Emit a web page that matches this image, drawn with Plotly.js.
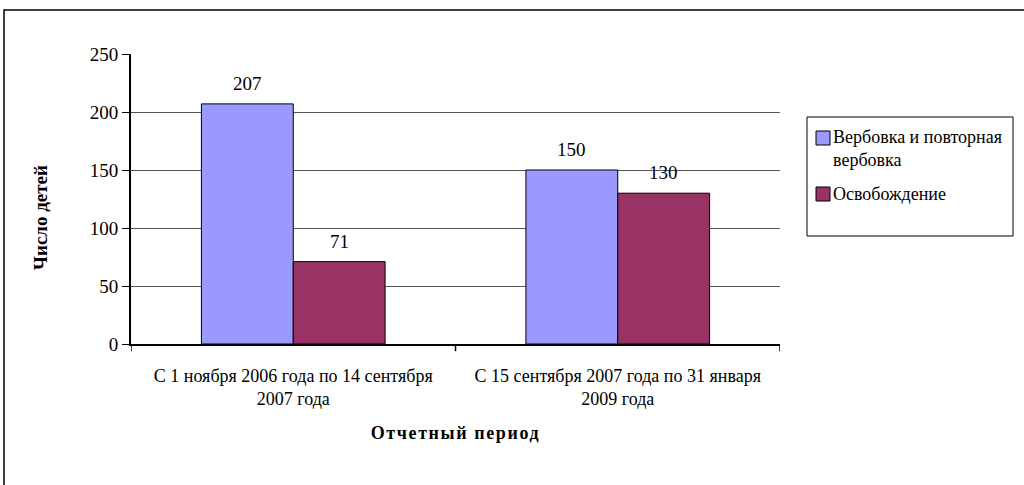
<!DOCTYPE html>
<html>
<head>
<meta charset="utf-8">
<script src="https://cdn.plot.ly/plotly-3.0.1.min.js"></script>
<style>
html,body{margin:0;padding:0;background:#fff;}
#chart{width:1024px;height:485px;}
#chart .g-xtitle text{letter-spacing:1.6px;}
</style>
</head>
<body>
<div id="chart"></div>
<script>
const categories = [
  "С 1 ноября 2006 года по 14 сентября<br>2007 года",
  "С 15 сентября 2007 года по 31 января<br>2009 года"
];
const seriesNames = ["Вербовка и повторная<br>вербовка", "Освобождение"];
const seriesColors = ["#9999ff", "#993366"];
const recruitment = [207, 150];
const release = [71, 130];
const yTicks = [0, 50, 100, 150, 200, 250];

const FONT = "Liberation Serif";
const barW = 0.283;

// pixel -> paper helpers (plot area: x 131..780, y 54..344)
const L = 131, R = 780, T = 54, B = 344;
const px = v => (v - L) / (R - L);
const py = v => (B - v) / (B - T);

const traces = [
  {
    type: "bar", name: seriesNames[0], x: [0, 1], y: recruitment,
    width: barW, offset: -barW,
    marker: {color: seriesColors[0], line: {color: "#000000", width: 1}},
    hoverinfo: "y"
  },
  {
    type: "bar", name: seriesNames[1], x: [0, 1], y: release,
    width: barW, offset: 0,
    marker: {color: seriesColors[1], line: {color: "#000000", width: 1}},
    hoverinfo: "y"
  }
];

const annotations = [];
recruitment.forEach((v, i) => annotations.push({
  x: i - barW / 2, y: v, xref: "x", yref: "y", text: String(v),
  showarrow: false, yanchor: "bottom", yshift: 8,
  font: {family: FONT, size: 19, color: "#000"}
}));
release.forEach((v, i) => annotations.push({
  x: i + barW / 2, y: v, xref: "x", yref: "y", text: String(v),
  showarrow: false, yanchor: "bottom", yshift: 8,
  font: {family: FONT, size: 19, color: "#000"}
}));

// y axis title (placed as in the reference, below centre)
annotations.push({
  xref: "paper", yref: "paper", x: px(40), y: py(218), textangle: -90,
  text: "Число детей", showarrow: false, xanchor: "center", yanchor: "middle",
  font: {family: FONT, size: 19, color: "#000", weight: "bold"}
});

// legend (drawn as a boxed key like the reference)
const legendRows = [{sq: [131, 145], text: 148.5}, {sq: [187, 201], text: 194}];
const shapes = [
  {type: "line", xref: "x", yref: "paper", x0: -0.5, x1: -0.5, y0: 0, y1: -0.025, line: {color: "#000", width: 1.5}},
  {type: "line", xref: "x", yref: "paper", x0: 0.5, x1: 0.5, y0: 0, y1: -0.025, line: {color: "#000", width: 1.5}},
  {type: "line", xref: "x", yref: "paper", x0: 1.5, x1: 1.5, y0: 0, y1: -0.025, line: {color: "#000", width: 1.5}},
  {type: "rect", xref: "paper", yref: "paper", x0: px(4), x1: 1.6, y0: -1, y1: py(10),
   line: {color: "#000", width: 1.5}, fillcolor: "rgba(0,0,0,0)", layer: "below"},
  {type: "rect", xref: "paper", yref: "paper", x0: px(807), x1: px(1013), y0: py(236), y1: py(117),
   line: {color: "#000", width: 1}, fillcolor: "#ffffff", layer: "above"}
];
seriesNames.forEach((name, i) => {
  const r = legendRows[i];
  shapes.push({type: "rect", xref: "paper", yref: "paper", x0: px(816), x1: px(830),
    y0: py(r.sq[1]), y1: py(r.sq[0]), line: {color: "#000", width: 1}, fillcolor: seriesColors[i], layer: "above"});
  annotations.push({xref: "paper", yref: "paper", x: px(831), y: py(r.text), xanchor: "left", yanchor: "middle",
    align: "left", text: name, showarrow: false, font: {family: FONT, size: 18, color: "#000"}});
});

const layout = {
  width: 1024, height: 485,
  margin: {l: L, r: 1024 - R, t: T, b: 485 - B, pad: 0},
  paper_bgcolor: "#ffffff", plot_bgcolor: "#ffffff",
  font: {family: FONT, size: 18, color: "#000"},
  showlegend: false,
  xaxis: {
    type: "linear", range: [-0.5, 1.5],
    tickvals: [0, 1], ticktext: categories,
    showgrid: false, zeroline: false,
    showline: true, linecolor: "#000", linewidth: 2,
    ticks: "", ticklabelstandoff: 14,
    tickfont: {family: FONT, size: 18, color: "#000"},
    title: {text: "Отчетный период", font: {family: FONT, size: 18, color: "#000", weight: "bold"}, standoff: 18},
    fixedrange: true
  },
  yaxis: {
    range: [0, 250], tickvals: yTicks, ticktext: yTicks.map(String),
    showgrid: true, gridcolor: "#555555", gridwidth: 1,
    zeroline: false, showline: true, linecolor: "#000", linewidth: 2,
    ticks: "outside", ticklen: 7, tickwidth: 1, tickcolor: "#000",
    tickfont: {family: FONT, size: 19, color: "#000"},
    fixedrange: true
  },
  annotations: annotations,
  shapes: shapes,
  bargap: 0.435
};

Plotly.newPlot("chart", traces, layout, {displayModeBar: false, staticPlot: true});
</script>
</body>
</html>
